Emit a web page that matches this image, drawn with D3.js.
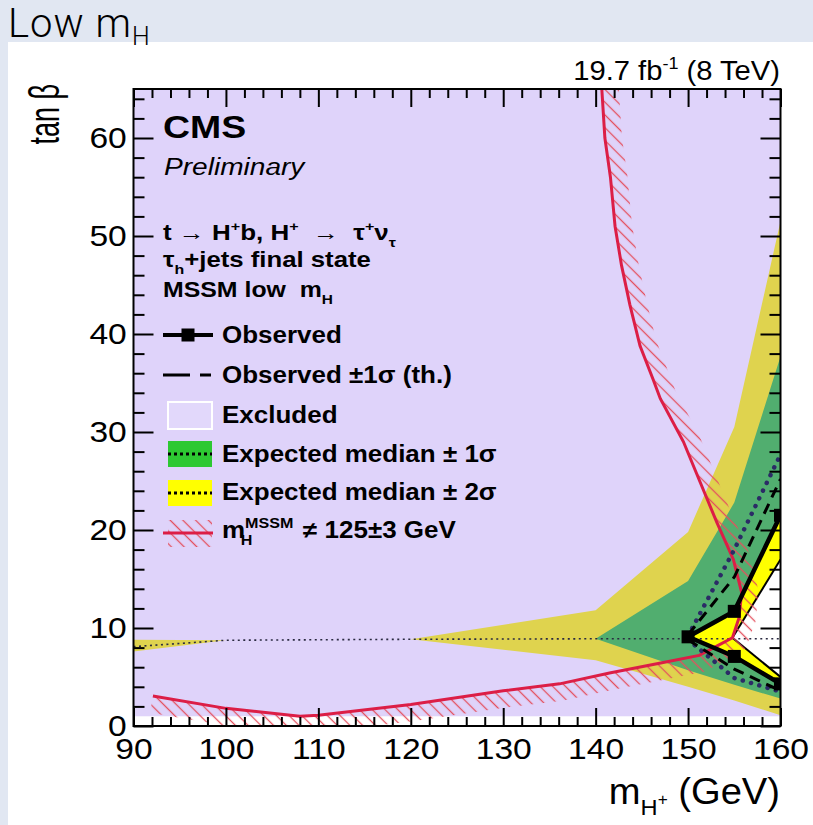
<!DOCTYPE html>
<html lang="en">
<head>
<meta charset="utf-8">
<title>Low mH</title>
<script src="https://d3js.org/d3.v7.min.js"></script>
<style>
  body { margin: 0; background: #fff; }
  text { font-family: "Liberation Sans", Arial, Helvetica, sans-serif; white-space: pre; }
</style>
</head>
<body>
<div id="chart"></div>
<script>
// expected limit band, mass points in GeV, tan(beta)
var masses     = [90, 100, 120, 140, 150, 155, 160];
var exp2sUp    = [8.8, 8.75, 8.85, 11.8, 19.8, 30.5, 51.5];
var exp2sDown  = [7.6, 8.75, 8.85, 6.7, 4.0, 2.6, 1.1];
var expCentral = [8.1, 8.75, 8.85, 8.9, 8.9, 8.9, 8.9];

var massesHigh = [140, 150, 155, 160];
var exp1sUp    = [8.9, 14.8, 22.8, 37.7];
var exp1sDown  = [8.9, 5.7, 4.2, 2.8];

// inner (allowed wedge) side of the bands
var massesInner    = [154.8, 160];
var exp2sInnerUp   = [9.0, 17.0];
var exp2sInnerDown = [9.0, 5.0];

var massesObs      = [150, 155, 160];
var exp1sInnerUp   = [9.0, 11.6, 21.3];
var exp1sInnerDown = [9.0, 7.2, 4.4];
var expMedUp       = [9.2, 18.0, 27.7];
var expMedDown     = [8.8, 4.9, 3.5];
var obsUp          = [9.1, 11.7, 21.5];
var obsDown        = [9.1, 7.1, 4.3];
var obsThUp        = [9.3, 15.2, 25.2];
var obsThDown      = [8.8, 5.8, 3.6];

// mH(MSSM) != 125+-3 GeV contour, from the top down and then to the left
var mhMass = [140.6, 141.0, 141.6, 142.1, 142.8, 143.7, 144.8, 146.2, 147.0, 149.5, 151.3, 153.1, 154.9, 155.8, 155.5, 154.8,
              153.0, 151.2, 146.9, 141.5, 136.1, 130, 120, 110, 108, 100, 92.1];
var mhTanb = [66, 60, 56, 51, 47, 43, 38.8, 35.4, 33.4, 29.0, 24.9, 20.8, 17.0, 13.6, 11.0, 9.0,
              8.1, 7.2, 6.4, 5.4, 4.3, 3.6, 2.2, 1.1, 1.0, 1.8, 3.06];

var excludedFrom = 1;   // lower edge of the excluded area in tan(beta)

var xTicks = d3.range(90, 161, 10);
var yTicks = d3.range(0, 61, 10);

var W = 813, H = 825;
var svg = d3.select("#chart").append("svg").attr("width", W).attr("height", H);

// page header
svg.append("rect").attr("x", 0).attr("y", 0).attr("width", W).attr("height", 42).attr("fill", "#e1e7f2");
svg.append("rect").attr("x", 0).attr("y", 0).attr("width", 8).attr("height", H).attr("fill", "#e1e7f2");
var hdr = svg.append("text").attr("x", 8).attr("y", 37)
  .style("font-family", "Roboto, sans-serif").attr("font-weight", 300).attr("font-size", 40)
  .attr("letter-spacing", 1);
hdr.append("tspan").text("Low m");
hdr.append("tspan").attr("dy", 8).attr("font-size", 25).attr("letter-spacing", -1).text("H");

var x = d3.scaleLinear().domain([90, 160]).range([133.5, 780.5]);
var y = d3.scaleLinear().domain([0, 65]).range([726, 89]);

var defs = svg.append("defs");
defs.append("clipPath").attr("id", "plotclip").append("rect")
  .attr("x", x(90)).attr("y", y(65)).attr("width", x(160) - x(90)).attr("height", y(0) - y(65));
var hatch = defs.append("pattern").attr("id", "hatch").attr("patternUnits", "userSpaceOnUse")
  .attr("width", 9).attr("height", 9).attr("patternTransform", "rotate(45)");
hatch.append("line").attr("x1", 0).attr("y1", 4.5).attr("x2", 9).attr("y2", 4.5)
  .attr("stroke", "#e4505e").attr("stroke-width", 1.3);

var plot = svg.append("g").attr("clip-path", "url(#plotclip)");

function pts(ms, vs) { return ms.map(function(m, i) { return [x(m), y(vs[i])]; }); }
function ring(ms, up, down) {
  var a = pts(ms, up), b = pts(ms, down).reverse();
  return "M" + a.concat(b).join("L") + "Z";
}
var line = d3.line();

// 2 sigma band (yellow) and 1 sigma band (green), each with its inner hole
plot.append("path")
  .attr("d", ring(masses, exp2sUp, exp2sDown) + ring(massesInner, exp2sInnerUp, exp2sInnerDown))
  .attr("fill", "#ffff00").attr("fill-rule", "evenodd");
plot.append("path")
  .attr("d", ring(massesHigh, exp1sUp, exp1sDown) + ring(massesObs, exp1sInnerUp, exp1sInnerDown))
  .attr("fill", "rgb(45,200,50)").attr("fill-rule", "evenodd");

// excluded area: semi-transparent overlay, hole where the observed limit allows
var excl = "M" + [[x(90), y(excludedFrom)], [x(160), y(excludedFrom)], [x(160), y(65)], [x(90), y(65)]].join("L") + "Z";
plot.append("path")
  .attr("d", excl + ring(massesObs, obsUp, obsDown))
  .attr("fill", "rgb(157,120,240)").attr("fill-opacity", 0.325).attr("fill-rule", "evenodd");

// thin boundary of the inner band
plot.append("path").attr("d", line(pts(massesInner, exp2sInnerUp))).attr("fill", "none").attr("stroke", "#000").attr("stroke-width", 2);
plot.append("path").attr("d", line(pts(massesInner, exp2sInnerDown))).attr("fill", "none").attr("stroke", "#000").attr("stroke-width", 2);

// expected median, horizontal part
plot.append("path").attr("d", line(pts(masses, expCentral)))
  .attr("fill", "none").attr("stroke", "#2a2a40").attr("stroke-width", 1.6).attr("stroke-dasharray", "2,3.5");

// mH != 125 hatched contour
var mp = pts(mhMass, mhTanb), hw = 17;
var off = mp.map(function(p, i) {
  var a = mp[Math.max(i - 1, 0)], b = mp[Math.min(i + 1, mp.length - 1)];
  var dx = b[0] - a[0], dy = b[1] - a[1], L = Math.hypot(dx, dy);
  return [p[0] + dy / L * hw, p[1] - dx / L * hw];
});
plot.append("path").attr("d", "M" + mp.concat(off.slice().reverse()).join("L") + "Z").attr("fill", "url(#hatch)");
plot.append("path").attr("d", line(mp)).attr("fill", "none").attr("stroke", "#dc1e46").attr("stroke-width", 3);

// expected median branches (dotted)
[expMedUp, expMedDown].forEach(function(v) {
  plot.append("path").attr("d", line(pts(massesObs, v))).attr("fill", "none")
    .attr("stroke", "#2b2b66").attr("stroke-width", 4.5).attr("stroke-linecap", "round").attr("stroke-dasharray", "0.1,8.5");
});
// observed +-1 sigma (theory), dashed
[obsThUp, obsThDown].forEach(function(v) {
  plot.append("path").attr("d", line(pts(massesObs, v))).attr("fill", "none")
    .attr("stroke", "#000").attr("stroke-width", 3).attr("stroke-dasharray", "11,7");
});
// observed
var obsPath = pts(massesObs, obsUp).reverse().concat(pts(massesObs, obsDown).slice(1));
plot.append("path").attr("d", line(obsPath)).attr("fill", "none").attr("stroke", "#000").attr("stroke-width", 4.5).attr("stroke-linejoin", "miter");
plot.selectAll("rect.obs").data(obsPath).enter().append("rect").attr("class", "obs")
  .attr("x", function(d) { return d[0] - 6.5; }).attr("y", function(d) { return d[1] - 6.5; })
  .attr("width", 13).attr("height", 13).attr("fill", "#000");

// axes, ROOT style ticks inside the frame
var minorX = d3.range(90, 161, 2).filter(function(v) { return v % 10; });
var minorY = d3.range(0, 65, 2).filter(function(v) { return v % 10; });
function axisG(ax, tx, ty) {
  var g = svg.append("g").attr("transform", "translate(" + tx + "," + ty + ")").call(ax);
  g.select(".domain").remove();
  g.selectAll("line").attr("stroke-width", 2);
  return g;
}
var gxb = axisG(d3.axisBottom(x).tickValues(xTicks).tickSize(-18).tickPadding(12).tickFormat(d3.format("d")), 0, y(0));
axisG(d3.axisBottom(x).tickValues(minorX).tickSize(-9).tickFormat(""), 0, y(0));
axisG(d3.axisTop(x).tickValues(xTicks).tickSize(-18).tickFormat(""), 0, y(65));
axisG(d3.axisTop(x).tickValues(minorX).tickSize(-9).tickFormat(""), 0, y(65));
var gyl = axisG(d3.axisLeft(y).tickValues(yTicks).tickSize(-20).tickPadding(6).tickFormat(d3.format("d")), x(90), 0);
axisG(d3.axisLeft(y).tickValues(minorY).tickSize(-11).tickFormat(""), x(90), 0);
axisG(d3.axisRight(y).tickValues(yTicks).tickSize(-20).tickFormat(""), x(160), 0);
axisG(d3.axisRight(y).tickValues(minorY).tickSize(-11).tickFormat(""), x(160), 0);
[gxb, gyl].forEach(function(g) {
  g.selectAll("text").attr("font-size", 30).attr("fill", "#000")
    .style("font-family", "'Liberation Sans', Arial, sans-serif").attr("transform", "scale(1.12,1)");
});
svg.append("rect").attr("x", x(90)).attr("y", y(65)).attr("width", x(160) - x(90)).attr("height", y(0) - y(65))
  .attr("fill", "none").attr("stroke", "#000").attr("stroke-width", 2);

// text helper: parts are [string, kind, x]; kind is "sup", "sub" or "subsup"
function rich(x0, y0, size, parts, o) {
  o = o || {};
  var t = svg.append("text").attr("transform", "translate(" + x0 + "," + y0 + ") scale(" + (o.sx || 1) + ",1)")
    .attr("font-size", size).attr("text-anchor", o.anchor || "start")
    .attr("font-weight", o.bold ? "bold" : null).attr("font-style", o.italic ? "italic" : null);
  var shift = 0;
  parts.forEach(function(p) {
    var target = 0, fs = size;
    if (p[1] === "sup") { target = -size * 0.42; fs = size * 0.62; }
    if (p[1] === "sub") { target = size * 0.3; fs = size * 0.62; }
    if (p[1] === "subsup") { target = size * 0.02; fs = size * 0.45; }
    var ts = t.append("tspan").attr("dy", target - shift).attr("font-size", fs).text(p[0]);
    if (p[2] !== undefined) ts.attr("x", p[2]);
    shift = target;
  });
  return t;
}

rich(780, 80, 27, [["19.7 fb"], ["-1", "sup"], [" (8 TeV)"]], { anchor: "end", sx: 1.08 });
rich(163, 138, 32, [["CMS"]], { bold: true, sx: 1.17 });
rich(164, 175, 24, [["Preliminary"]], { italic: true, sx: 1.17 });
rich(163, 240, 22, [["t \u2192 H"], ["+", "sup"], ["b, H"], ["+", "sup"], ["  \u2192  \u03c4"], ["+", "sup"], ["\u03bd"], ["\u03c4", "sub"]], { bold: true, sx: 1.18 });
rich(163, 267, 22, [["\u03c4"], ["h", "sub"], ["+jets final state"]], { bold: true, sx: 1.17 });
rich(163, 297, 22, [["MSSM low  m"], ["H", "sub"]], { bold: true, sx: 1.13 });

var lx = 222, ls = 23, lsx = 1.13;
rich(lx, 343, ls, [["Observed"]], { bold: true, sx: lsx });
rich(lx, 383, ls, [["Observed \u00b11\u03c3 (th.)"]], { bold: true, sx: lsx });
rich(lx, 423, ls, [["Excluded"]], { bold: true, sx: lsx });
rich(lx, 462, ls, [["Expected median \u00b1 1\u03c3"]], { bold: true, sx: lsx });
rich(lx, 500, ls, [["Expected median \u00b1 2\u03c3"]], { bold: true, sx: lsx });
rich(lx, 538, ls, [["m"], ["MSSM", "sup"], ["H", "sub", 16.5], ["  \u2260 125\u00b13 GeV", undefined, 59]], { bold: true, sx: lsx });

// legend symbols
svg.append("line").attr("x1", 163).attr("x2", 213).attr("y1", 335).attr("y2", 335).attr("stroke", "#000").attr("stroke-width", 4);
svg.append("rect").attr("x", 181.5).attr("y", 328.5).attr("width", 13).attr("height", 13).attr("fill", "#000");
svg.append("line").attr("x1", 163).attr("x2", 213).attr("y1", 375).attr("y2", 375).attr("stroke", "#000").attr("stroke-width", 3)
  .attr("stroke-dasharray", "27,10,11,20");
svg.append("rect").attr("x", 168).attr("y", 402).attr("width", 44).attr("height", 27).attr("fill", "#e2d8fb")
  .attr("stroke", "#fff").attr("stroke-width", 2);
svg.append("rect").attr("x", 168).attr("y", 441).attr("width", 44).attr("height", 26).attr("fill", "rgb(45,200,50)");
svg.append("line").attr("x1", 168).attr("x2", 212).attr("y1", 454).attr("y2", 454).attr("stroke", "#000").attr("stroke-width", 3).attr("stroke-dasharray", "3,3");
svg.append("rect").attr("x", 168).attr("y", 480).attr("width", 44).attr("height", 26).attr("fill", "#ffff00");
svg.append("line").attr("x1", 168).attr("x2", 212).attr("y1", 493).attr("y2", 493).attr("stroke", "#000").attr("stroke-width", 3).attr("stroke-dasharray", "3,3");
svg.append("rect").attr("x", 168).attr("y", 520).attr("width", 44).attr("height", 27).attr("fill", "url(#hatch)");
svg.append("line").attr("x1", 163).attr("x2", 213).attr("y1", 533).attr("y2", 533).attr("stroke", "#dc1e46").attr("stroke-width", 3);

// axis titles
rich(780, 804, 36, [["m"], ["H", "sub"], ["+", "subsup"], [" (GeV)"]], { anchor: "end", sx: 1.06 });
svg.append("text").attr("transform", "translate(59,84) rotate(-90) scale(0.9,1.4)").attr("text-anchor", "end")
  .attr("font-size", 30).text("tan \u03b2");
</script>
</body>
</html>
